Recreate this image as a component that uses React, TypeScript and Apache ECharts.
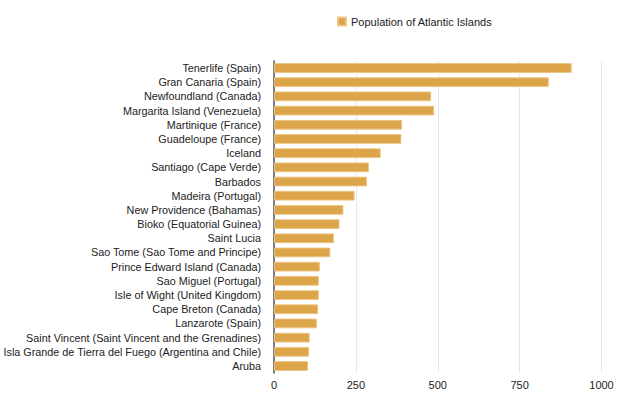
import React, { useEffect, useRef } from "react";
import * as echarts from "echarts";

const categories = [
  "Tenerlife (Spain)",
  "Gran Canaria (Spain)",
  "Newfoundland (Canada)",
  "Margarita Island (Venezuela)",
  "Martinique (France)",
  "Guadeloupe (France)",
  "Iceland",
  "Santiago (Cape Verde)",
  "Barbados",
  "Madeira (Portugal)",
  "New Providence (Bahamas)",
  "Bioko (Equatorial Guinea)",
  "Saint Lucia",
  "Sao Tome (Sao Tome and Principe)",
  "Prince Edward Island (Canada)",
  "Sao Miguel (Portugal)",
  "Isle of Wight (United Kingdom)",
  "Cape Breton (Canada)",
  "Lanzarote (Spain)",
  "Saint Vincent (Saint Vincent and the Grenadines)",
  "Isla Grande de Tierra del Fuego (Argentina and Chile)",
  "Aruba",
];

const population = [
  909, 839, 480, 489, 391, 389, 326, 290, 284, 246, 212, 200, 183, 172, 140,
  137, 137, 135, 131, 109, 107, 104,
];

const seriesName = "Population of Atlantic Islands";
const xTicks = { min: 0, max: 1000, interval: 250 };

export default function App() {
  const ref = useRef<HTMLDivElement>(null);
  useEffect(() => {
    if (!ref.current) return;
    const chart = echarts.init(ref.current, null, { renderer: "svg" });
    const font = "Liberation Sans, Arial, Helvetica, sans-serif";
    chart.setOption({
      animation: false,
      textStyle: { fontFamily: font },
      legend: {
        data: [seriesName],
        left: 332,
        top: 11,
        icon: "rect",
        itemWidth: 8,
        itemHeight: 8,
        itemGap: 10,
        textStyle: { fontSize: 11, color: "#222", fontFamily: font },
      },
      grid: {
        left: 274,
        right: 18.5,
        top: 60.9,
        bottom: 20.9,
        containLabel: false,
        outerBoundsMode: "none",
      },
      xAxis: {
        type: "value",
        min: xTicks.min,
        max: xTicks.max,
        interval: xTicks.interval,
        axisLine: { show: false },
        axisTick: { show: false },
        splitLine: { show: true, lineStyle: { color: "#e8e8e8", width: 1 } },
        axisLabel: {
          color: "#222",
          fontSize: 11,
          margin: 6,
          fontFamily: font,
          formatter: (v: number) => String(v),
        },
      },
      yAxis: {
        type: "category",
        data: categories,
        inverse: true,
        axisLine: { show: true, lineStyle: { color: "#555", width: 1.5 } },
        axisTick: { show: false },
        axisLabel: { color: "#222", fontSize: 10.8, margin: 13, interval: 0, fontFamily: font },
      },
      series: [
        {
          name: seriesName,
          type: "bar",
          data: population,
          barWidth: "69%",
          itemStyle: {
            color: "#dda54a",
            borderColor: "rgba(236,196,130,0.9)",
            borderWidth: 1,
          },
        },
      ],
    });
    return () => chart.dispose();
  }, []);
  return (
    <div
      ref={ref}
      style={{ position: "absolute", left: 0, top: 0, width: 620, height: 394 }}
    />
  );
}
